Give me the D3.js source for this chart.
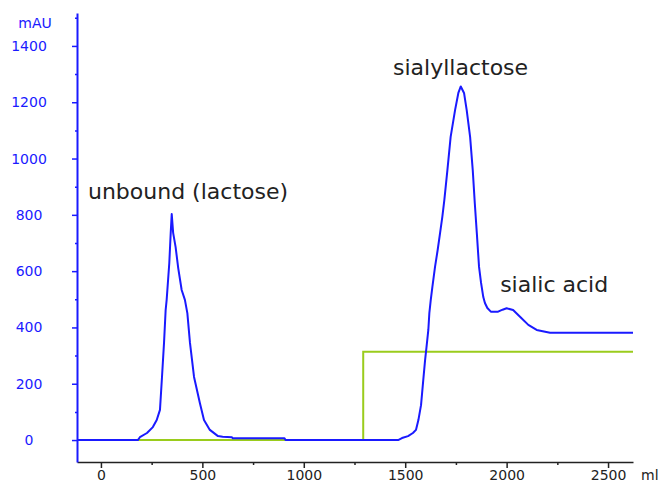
<!DOCTYPE html>
<html>
<head>
<meta charset="utf-8">
<script src="https://cdn.jsdelivr.net/npm/d3@7"></script>
<style>
  body { margin: 0; background: #fff; }
  svg { display: block; }
  text { font-family: "DejaVu Sans", Verdana, sans-serif; }
</style>
</head>
<body>
<figure id="chroma" style="margin:0"></figure>
<script>
// UV trace (ml, mAU)
const uvVolume = [-118, 182, 192, 227, 256, 275, 291, 301, 311, 319, 324, 337, 344, 349,
  356, 368, 381, 398, 414, 426, 439, 459, 488, 508, 537, 577, 600, 646, 650, 905, 910,
  1465, 1484, 1514, 1538, 1553, 1565, 1578, 1589, 1598, 1605, 1614, 1619, 1626, 1634,
  1647, 1660, 1672, 1683, 1693, 1708, 1724, 1746, 1762, 1774, 1790, 1803, 1820, 1833,
  1843, 1853, 1864, 1874, 1885, 1893, 1905, 1922, 1958, 1980, 2000, 2032, 2066, 2107,
  2148, 2214, 2623];
const uvAbs = [0, 0, 10, 25, 46, 71, 107, 224, 345, 462, 498, 629, 736, 803,
  736, 686, 611, 533, 498, 451, 345, 224, 131, 71, 36, 14, 12, 10, 6, 6, 0,
  0, 7, 14, 25, 36, 71, 124, 213, 284, 330, 391, 451, 498, 544,
  615, 675, 736, 793, 853, 959, 1077, 1173, 1233, 1256, 1233, 1173, 1077, 959,
  842, 736, 615, 558, 508, 487, 469, 456, 456, 463, 468, 462, 438, 409,
  391, 381, 381];

// step gradient trace
const stepVolume = [180, 1293, 1293, 2623];
const stepLevel = [0, 0, 314, 314];

const yMajor = [0, 200, 400, 600, 800, 1000, 1200, 1400];
const yMinor = [100, 300, 500, 700, 900, 1100, 1300, 1500];
const xMajor = [0, 500, 1000, 1500, 2000, 2500];
const xMinor = [250, 750, 1250, 1750, 2250];

const peakLabels = [
  { text: "unbound (lactose)", ml: -64, mAU: 858 },
  { text: "sialyllactose", ml: 1440, mAU: 1297 },
  { text: "sialic acid", ml: 1968, mAU: 527 }
];

const width = 660, height = 482;
const blue = "#1a1aff", green = "#9acc1c", ink = "#222";

const svg = d3.select("figure#chroma")
  .append("svg")
  .attr("width", width)
  .attr("height", height);

const x = d3.scaleLinear().domain([-118, 2623]).range([77, 633]);
const y = d3.scaleLinear().domain([-78, 1517]).range([462, 13]);

// x axis
const xAxis = svg.append("g")
  .attr("transform", "translate(0,462)")
  .call(d3.axisBottom(x).tickValues(xMajor).tickSize(6).tickSizeOuter(0).tickFormat(d3.format("d")));
xAxis.select(".domain").attr("stroke", ink).attr("stroke-width", 1.5);
xAxis.selectAll(".tick line").attr("stroke", ink).attr("stroke-width", 1.5);
xAxis.selectAll("text")
  .attr("y", 18).attr("dy", 0)
  .attr("fill", ink)
  .style("font-size", "14px");

svg.append("g")
  .attr("transform", "translate(0,462)")
  .call(d3.axisBottom(x).tickValues(xMinor).tickSize(3).tickFormat(""))
  .call(g => g.select(".domain").remove())
  .selectAll("line").attr("stroke", ink).attr("stroke-width", 1.5);

svg.append("text")
  .attr("x", 641).attr("y", 480)
  .attr("fill", ink)
  .style("font-size", "14px")
  .text("ml");

// y axis
const yAxis = svg.append("g")
  .attr("transform", "translate(77,0)")
  .call(d3.axisLeft(y).tickValues(yMajor).tickSize(5).tickSizeOuter(0).tickFormat(d3.format("d")));
yAxis.select(".domain").attr("stroke", blue).attr("stroke-width", 2);
yAxis.selectAll(".tick line").attr("stroke", blue).attr("stroke-width", 1.5);
yAxis.selectAll("text")
  .attr("x", -48)
  .attr("text-anchor", "middle")
  .attr("fill", blue)
  .style("font-size", "14px");

svg.append("g")
  .attr("transform", "translate(77,0)")
  .call(d3.axisLeft(y).tickValues(yMinor).tickSize(2).tickFormat(""))
  .call(g => g.select(".domain").remove())
  .selectAll("line").attr("stroke", blue).attr("stroke-width", 1.5);

svg.append("text")
  .attr("x", 35).attr("y", 28)
  .attr("text-anchor", "middle")
  .attr("fill", blue)
  .style("font-size", "14px")
  .text("mAU");

// traces
const stepLine = d3.line()
  .x(i => x(stepVolume[i]))
  .y(i => y(stepLevel[i]));
svg.append("path")
  .attr("d", stepLine(d3.range(stepVolume.length)))
  .attr("fill", "none")
  .attr("stroke", green)
  .attr("stroke-width", 2);

const uvLine = d3.line()
  .x(i => x(uvVolume[i]))
  .y(i => y(uvAbs[i]));
svg.append("path")
  .attr("d", uvLine(d3.range(uvVolume.length)))
  .attr("fill", "none")
  .attr("stroke", blue)
  .attr("stroke-width", 2)
  .attr("stroke-linejoin", "round");

// peak annotations
svg.selectAll("text.peak")
  .data(peakLabels)
  .enter()
  .append("text")
  .attr("class", "peak")
  .attr("x", d => x(d.ml))
  .attr("y", d => y(d.mAU))
  .attr("fill", ink)
  .style("font-size", "22px")
  .text(d => d.text);
</script>
</body>
</html>
